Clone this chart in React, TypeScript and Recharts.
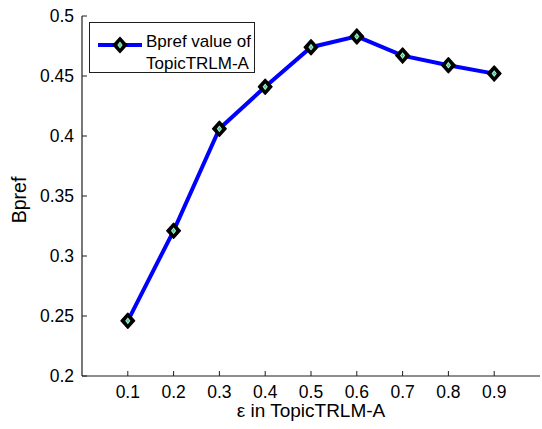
import { LineChart, Line, XAxis, YAxis, Legend } from 'recharts';

const epsilons = [0.1, 0.2, 0.3, 0.4, 0.5, 0.6, 0.7, 0.8, 0.9];
const bprefValues = [0.246, 0.321, 0.406, 0.441, 0.474, 0.483, 0.467, 0.459, 0.452];
const xTicks = [0.1, 0.2, 0.3, 0.4, 0.5, 0.6, 0.7, 0.8, 0.9];
const yTicks = [0.2, 0.25, 0.3, 0.35, 0.4, 0.45, 0.5];
const seriesName = 'Bpref value of TopicTRLM-A';

const data = epsilons.map((e, i) => ({ eps: e, bpref: bprefValues[i] }));

const FONT = '"Liberation Sans", Arial, Helvetica, sans-serif';
const AXIS = '#1e1e1e';
const TICK_LEN = 5;

function BottomTick({ x, y, payload }: any) {
  return (
    <g>
      <line x1={x} y1={y} x2={x} y2={y - TICK_LEN} stroke={AXIS} strokeWidth={1} />
      <text x={x} y={y + 9} dy="0.72em" textAnchor="middle" fontSize={17.5} fill="#000" fontFamily={FONT}>
        {payload.value}
      </text>
    </g>
  );
}

function TopTick({ x, y }: any) {
  return <line x1={x} y1={y} x2={x} y2={y + TICK_LEN} stroke={AXIS} strokeWidth={1} />;
}

function LeftTick({ x, y, payload }: any) {
  return (
    <g>
      <line x1={x} y1={y} x2={x + TICK_LEN} y2={y} stroke={AXIS} strokeWidth={1} />
      <text x={x - 8} y={y} dy="0.36em" textAnchor="end" fontSize={17.5} fill="#000" fontFamily={FONT}>
        {payload.value}
      </text>
    </g>
  );
}

function RightTick({ x, y }: any) {
  return <line x1={x} y1={y} x2={x - TICK_LEN} y2={y} stroke={AXIS} strokeWidth={1} />;
}

function Diamond({ cx, cy, size = 7.5 }: any) {
  if (cx == null || cy == null) return null;
  const s = size;
  const inner = 2.6;
  return (
    <g>
      <polygon
        points={`${cx},${cy - s} ${cx + s * 0.9},${cy} ${cx},${cy + s} ${cx - s * 0.9},${cy}`}
        fill="#000"
        stroke="#000"
        strokeWidth={1.5}
        strokeLinejoin="round"
      />
      <polygon
        points={`${cx},${cy - inner - 0.8} ${cx + inner},${cy} ${cx},${cy + inner + 0.8} ${cx - inner},${cy}`}
        fill="#a8ffd0"
      />
      <line x1={cx - 1.6} y1={cy} x2={cx + 1.6} y2={cy} stroke="#3fb08a" strokeWidth={0.8} />
      <line x1={cx} y1={cy - 1.8} x2={cx} y2={cy + 1.8} stroke="#3fb08a" strokeWidth={0.8} />
    </g>
  );
}

function LegendBox() {
  const lines = ['Bpref value of', 'TopicTRLM-A'];
  return (
    <svg width={167} height={51} style={{ display: 'block' }}>
      <rect x={0.5} y={0.5} width={165} height={50} fill="#fff" stroke={AXIS} strokeWidth={1} />
      <line x1={9} y1={23} x2={53} y2={23} stroke="#0000ff" strokeWidth={4} />
      <Diamond cx={31} cy={23} size={7.5} />
      {lines.map((t, i) => (
        <text key={t} x={57} y={25 + i * 22} fontSize={17} fill="#000" fontFamily={FONT}>
          {t}
        </text>
      ))}
    </svg>
  );
}

export default function App() {
  return (
    <div style={{ position: 'absolute', left: 0, top: 0, background: '#fff' }}>
      <LineChart width={542} height={429} data={data} margin={{ top: 16, right: 2, bottom: 0, left: 0 }}>
        <XAxis
          xAxisId="b"
          dataKey="eps"
          type="number"
          domain={[0, 1]}
          ticks={xTicks}
          interval={0}
          height={53}
          tickSize={0}
          tickMargin={0}
          tickLine={false}
          axisLine={{ stroke: AXIS, strokeWidth: 1.2 }}
          tick={<BottomTick />}
          label={{ value: 'ε in TopicTRLM-A', position: 'insideBottom', offset: 12, fontSize: 19, fill: '#000', fontFamily: FONT }}
        />
        <XAxis
          xAxisId="t"
          dataKey="eps"
          type="number"
          orientation="top"
          domain={[0, 1]}
          ticks={xTicks}
          interval={0}
          height={0}
          tickSize={0}
          tickMargin={0}
          tickLine={false}
          axisLine={{ stroke: AXIS, strokeWidth: 1.2 }}
          tick={<TopTick />}
        />
        <YAxis
          yAxisId="l"
          type="number"
          domain={[0.2, 0.5]}
          ticks={yTicks}
          interval={0}
          width={82}
          tickSize={0}
          tickMargin={0}
          tickLine={false}
          axisLine={{ stroke: AXIS, strokeWidth: 1.2 }}
          tick={<LeftTick />}
          label={{
            content: () => (
              <text
                x={19}
                y={200}
                transform="rotate(-90 19 200)"
                textAnchor="middle"
                dominantBaseline="central"
                fontSize={19.5}
                fill="#000"
                fontFamily={FONT}
              >
                Bpref
              </text>
            ),
          }}
        />
        <YAxis
          yAxisId="r"
          type="number"
          orientation="right"
          domain={[0.2, 0.5]}
          ticks={yTicks}
          interval={0}
          width={0}
          tickSize={0}
          tickMargin={0}
          tickLine={false}
          axisLine={{ stroke: AXIS, strokeWidth: 1.2 }}
          tick={<RightTick />}
        />
        <Legend
          layout="horizontal"
          verticalAlign="middle"
          align="center"
          wrapperStyle={{ position: 'absolute', left: 89, top: 22, width: 'auto', height: 'auto' }}
          content={() => <LegendBox />}
        />
        <Line
          xAxisId="b"
          yAxisId="l"
          name={seriesName}
          dataKey="bpref"
          stroke="#0000ff"
          strokeWidth={4}
          dot={<Diamond />}
          activeDot={false}
          isAnimationActive={false}
        />
      </LineChart>
    </div>
  );
}
